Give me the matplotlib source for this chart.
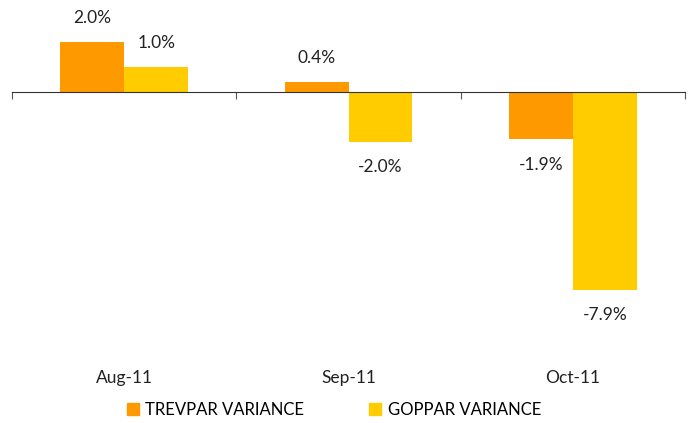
import matplotlib.pyplot as plt
import numpy as np
from matplotlib.patches import Patch

plt.rcParams['font.family'] = ['Liberation Sans Narrow', 'Lato', 'DejaVu Sans']

months = ["Aug-11", "Sep-11", "Oct-11"]
trevpar = [2.0, 0.4, -1.9]
goppar = [1.0, -2.0, -7.9]
series_names = ["TREVPAR VARIANCE", "GOPPAR VARIANCE"]
colors = ["#FF9900", "#FFCC00"]

fig = plt.figure(figsize=(6.92, 4.23), dpi=100)
ax = fig.add_axes([12 / 692, 123 / 423, 673 / 692, 290 / 423])

x = np.arange(len(months))
w = 0.285
for vals, off, col in [(trevpar, -w / 2, colors[0]), (goppar, w / 2, colors[1])]:
    bars = ax.bar(x + off, vals, width=w, color=col, zorder=1)
    for b, v in zip(bars, vals):
        y = b.get_height() if v >= 0 else v
        dy = 24 if v >= 0 else -25
        ax.annotate(f"{v:.1f}%", (b.get_x() + b.get_width() / 2, y),
                    xytext=(0, dy), textcoords="offset pixels",
                    ha="center", va="center", fontsize=12.5, color="#222222")

ax.set_xlim(-0.5, 2.5)
ax.set_ylim(-8.32, 3.28)
for s in ["top", "right", "left"]:
    ax.spines[s].set_visible(False)
ax.spines["bottom"].set_position(("data", 0))
ax.spines["bottom"].set_color("#333333")
ax.spines["bottom"].set_zorder(3)
ax.set_yticks([])
ax.set_xticks([-0.5, 0.5, 1.5, 2.5])
ax.set_xticklabels([])
ax.tick_params(axis="x", direction="out", length=5, color="#555555")

# category labels below the plot
for xi, m in zip(x, months):
    fig.text((12 + (xi + 0.5) * 224.3) / 692, 1 - 378 / 423, m,
             ha="center", va="center", fontsize=12.5, color="#222222")

handles = [Patch(color=c) for c in colors]
fig.legend(handles, series_names, loc="center", bbox_to_anchor=(334 / 692, 1 - 410 / 423),
           ncol=2, frameon=False, fontsize=12, handlelength=0.7, handleheight=0.7,
           handletextpad=0.4, columnspacing=3.9)

fig.savefig("out.png", dpi=100)
